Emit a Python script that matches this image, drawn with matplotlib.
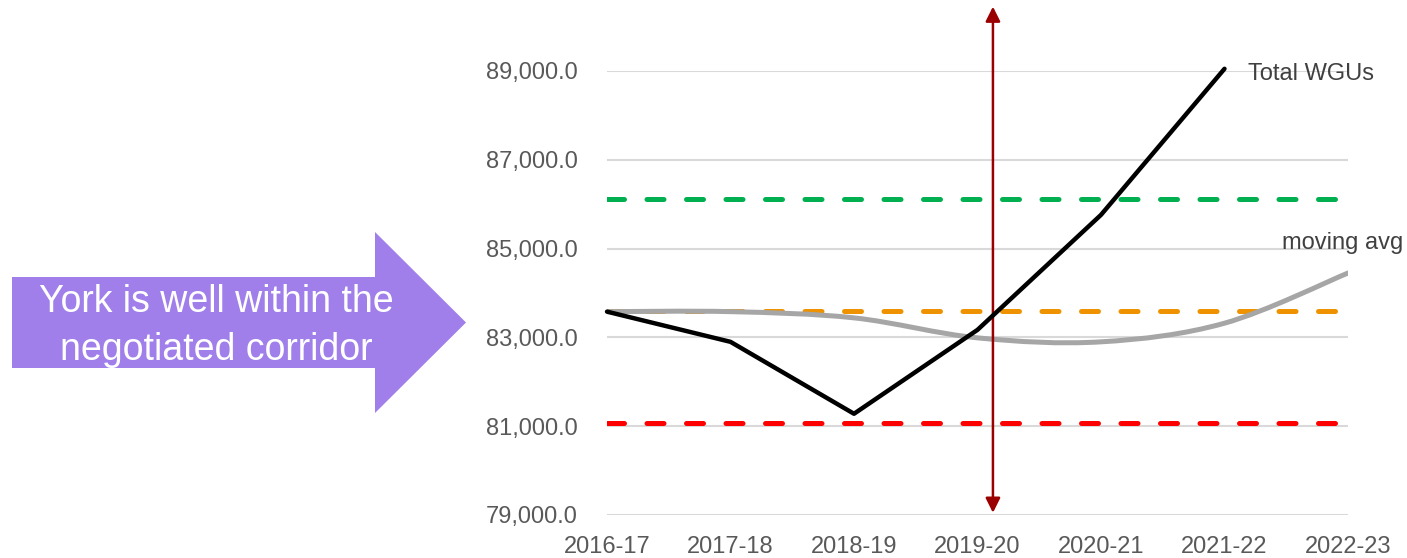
import matplotlib
matplotlib.use("Agg")
import matplotlib.pyplot as plt
from matplotlib.path import Path
from matplotlib.patches import PathPatch, Polygon
import numpy as np

plt.rcParams['font.family'] = ['Liberation Sans', 'DejaVu Sans']

years = ["2016-17", "2017-18", "2018-19", "2019-20", "2020-21", "2021-22", "2022-23"]
total_wgus = [83580, 82900, 81280, 83170, 85760, 89050]
moving_avg = [83580, 83580, 83440, 82990, 82900, 83320, 84450]
upper_corridor = 86120
midpoint = 83600
lower_corridor = 81070
yticks = [79000, 81000, 83000, 85000, 87000, 89000]
marker_year_pos = 3.125

fig = plt.figure(figsize=(14.07, 5.58), dpi=100)
ax = fig.add_axes([607/1407, 43/558, (1348-607)/1407, (515-71)/558])

xs = np.arange(len(years))
ax.set_xlim(0, len(years) - 1)
ax.set_ylim(79000, 89000)
ax.set_yticks(yticks)
ax.set_yticklabels([f"{v:,.1f}" for v in yticks])
ax.set_xticks(xs)
ax.set_xticklabels(years)
ax.tick_params(axis='both', length=0, labelsize=17, labelcolor='#595959')
ax.tick_params(axis='x', pad=15)
ax.tick_params(axis='y', pad=21)
for s in ax.spines.values():
    s.set_visible(False)
ax.grid(axis='y', color='#D9D9D9', linewidth=1.5)
ax.set_axisbelow(True)

# corridor lines
dash_kw = dict(linewidth=3.6, dash_capstyle='round', dashes=(3.4, 4.5))
ax.plot([xs[0], xs[-1]], [upper_corridor]*2, color='#00B050', **dash_kw)
ax.plot([xs[0], xs[-1]], [midpoint]*2, color='#EE9200', **dash_kw)
ax.plot([xs[0], xs[-1]], [lower_corridor]*2, color='#FF0000', **dash_kw)

# smoothed moving average via cubic Bezier segments (Catmull-Rom control points)
px = np.array(xs, dtype=float)
py = np.array(moving_avg, dtype=float)
verts = [(px[0], py[0])]
codes = [Path.MOVETO]
n = len(px)
for i in range(n - 1):
    p0 = (px[max(i-1, 0)], py[max(i-1, 0)])
    p1 = (px[i], py[i])
    p2 = (px[i+1], py[i+1])
    p3 = (px[min(i+2, n-1)], py[min(i+2, n-1)])
    c1 = (p1[0] + (p2[0]-p0[0])/6, p1[1] + (p2[1]-p0[1])/6)
    c2 = (p2[0] - (p3[0]-p1[0])/6, p2[1] - (p3[1]-p1[1])/6)
    verts += [c1, c2, p2]
    codes += [Path.CURVE4]*3
ax.add_patch(PathPatch(Path(verts, codes), fill=False, edgecolor='#A6A6A6',
                       linewidth=3.6, capstyle='round', zorder=3))

ax.plot(xs[:len(total_wgus)], total_wgus, color='black', linewidth=3.2,
        solid_capstyle='round', solid_joinstyle='round', zorder=4, clip_on=False)

ax.text(len(total_wgus) - 1 + 0.19, total_wgus[-1] - 110, "Total WGUs", fontsize=17,
        color='#404040', va='center', ha='left', clip_on=False)
ax.text(len(years) - 1 + 0.445, 85120, "moving avg", fontsize=17,
        color='#404040', va='center', ha='right', clip_on=False)

# vertical double arrow
ax.annotate("", xy=(marker_year_pos, 79050), xytext=(marker_year_pos, 90450),
            arrowprops=dict(arrowstyle='<|-|>', color='#9B0000', lw=1.8,
                            mutation_scale=22, shrinkA=0, shrinkB=0),
            annotation_clip=False)

# purple block arrow on the left (figure pixel coordinates)
H = 558
pts = [(12, H-277), (375, H-277), (375, H-232), (466, H-322.5),
       (375, H-413), (375, H-368), (12, H-368)]
pts = [(x/1407, y/H) for x, y in pts]
fig.patches.append(Polygon(pts, closed=True, transform=fig.transFigure,
                           facecolor='#A07FEB', edgecolor='none'))
fig.text(216/1407, 1 - 326/H, "York is well within the\nnegotiated corridor",
         color='white', fontsize=27, ha='center', va='center', linespacing=1.42)

fig.savefig("out.png", dpi=100, facecolor='white')
